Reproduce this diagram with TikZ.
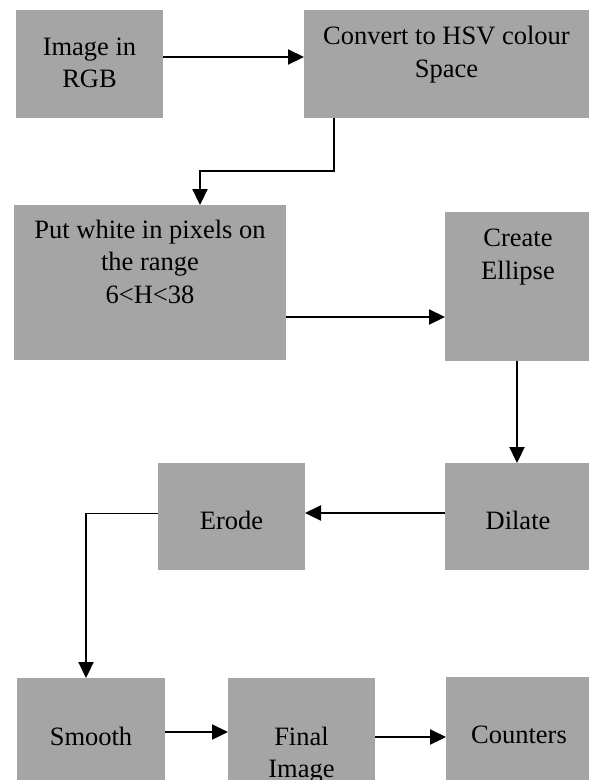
\documentclass[tikz,border=0pt]{standalone}
\usepackage{fontspec}
\setmainfont{Liberation Serif}
\usetikzlibrary{arrows.meta}
\definecolor{boxgray}{HTML}{A5A5A5}
\begin{document}
\begin{tikzpicture}[x=1pt,y=-1pt,
  blk/.style={fill=boxgray, draw=none, inner sep=0pt, outer sep=0pt, anchor=north west},
  lbl/.style={font=\fontsize{26.5}{32.5}\selectfont, align=center, inner sep=0pt, anchor=base},
  arr/.style={line width=2.2pt, -{Triangle[length=16pt,width=15pt]}},
  thin/.style={line width=1pt}
]
\useasboundingbox (0,0) rectangle (589,780);
\clip (0,0) rectangle (589,780);

% boxes
\node[blk, minimum width=147pt, minimum height=108pt] (rgb) at (16,10) {};
\node[blk, minimum width=285pt, minimum height=108pt] (hsv) at (304,10) {};
\node[blk, minimum width=272pt, minimum height=155pt] (put) at (14,205) {};
\node[blk, minimum width=144pt, minimum height=149pt] (ell) at (445,212) {};
\node[blk, minimum width=144pt, minimum height=107pt] (dil) at (445,463) {};
\node[blk, minimum width=147pt, minimum height=107pt] (ero) at (158,463) {};
\node[blk, minimum width=148pt, minimum height=110pt] (smo) at (17,678) {};
\node[blk, minimum width=147pt, minimum height=110pt] (fin) at (228,678) {};
\node[blk, minimum width=143pt, minimum height=110pt] (cnt) at (446,677) {};

% texts (anchor=base is the baseline of the last line)
\node[lbl] (trgb) at (89.5,87.5) {Image in\\RGB};
\node[lbl] (thsv) at (446.5,77) {Convert to HSV colour\\Space};
\node[lbl] (tput) at (150,303) {Put white in pixels on\\the range\\6<H<38};
\node[lbl] (tell) at (518,279) {Create\\Ellipse};
\node[lbl] (tdil) at (518,529) {Dilate};
\node[lbl] (tero) at (231.5,529) {Erode};
\node[lbl] (tsmo) at (91,745) {Smooth};
\node[lbl] (tfin) at (301.5,777.5) {Final\\Image};
\node[lbl] (tcnt) at (519,743) {Counters};

% connectors
\coordinate (bend1) at (334,171);
\coordinate (bend2) at (200,171);
\coordinate (bend3) at (86,513);

\draw[arr] (rgb.east |- 0,57) -- (hsv.west |- 0,57);
\draw[arr] (hsv.south -| bend1) -- (bend1) -- (bend2) -- (put.north -| bend2);
\draw[arr] (put.east |- 0,317) -- (ell.west |- 0,317);
\draw[arr] (ell.south -| 517,0) -- (dil.north -| 517,0);
\draw[arr] (dil.west |- 0,513) -- (ero.east |- 0,513);
\draw[thin] (ero.west |- bend3) -- (bend3);
\draw[arr] (bend3) -- (smo.north -| bend3);
\draw[arr] (smo.east |- 0,732) -- (fin.west |- 0,732);
\draw[arr] (fin.east |- 0,737) -- (cnt.west |- 0,737);
\end{tikzpicture}
\end{document}
